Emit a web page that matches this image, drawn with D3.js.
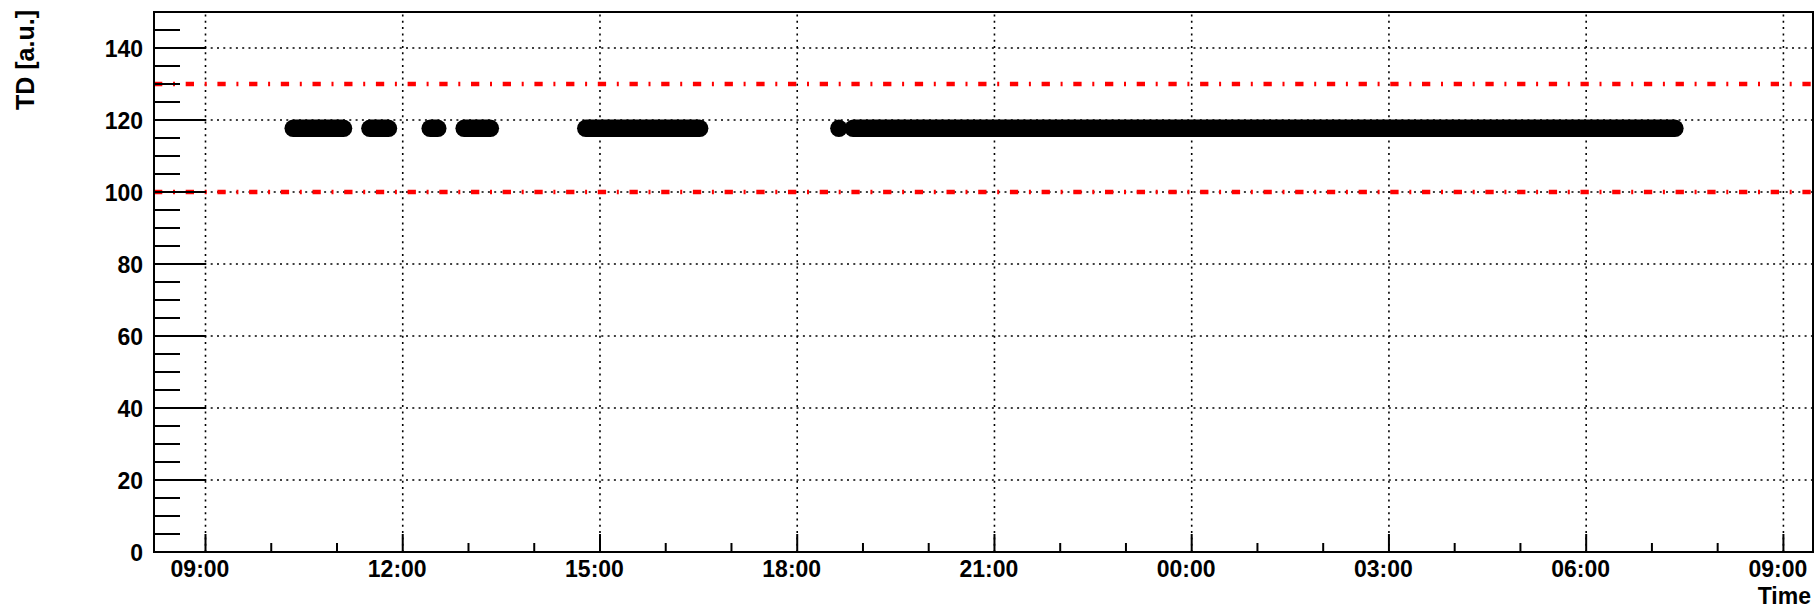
<!DOCTYPE html>
<html>
<head>
<meta charset="utf-8">
<script src="https://cdn.jsdelivr.net/npm/d3@7"></script>
<style>
  body { margin: 0; background: #fff; }
  text { font-family: "Liberation Sans", Arial, Helvetica, sans-serif; font-weight: bold; fill: #000; }
</style>
</head>
<body>
<div id="chart"></div>
<script>
// data: runs of consecutive readings (start, end, value)
const runStart = ["2024-01-01T10:20", "2024-01-01T11:30", "2024-01-01T12:25", "2024-01-01T12:56",
                  "2024-01-01T14:47", "2024-01-01T18:38", "2024-01-01T18:51"];
const runEnd   = ["2024-01-01T11:06", "2024-01-01T11:47", "2024-01-01T12:32", "2024-01-01T13:20",
                  "2024-01-01T16:31", "2024-01-01T18:38", "2024-01-02T07:21"];
const runValue = [117.7, 117.7, 117.7, 117.7, 117.7, 117.7, 117.7];

// limits (red dash-dot lines)
const limitValues = [100, 130];

// axes
const timeStart = "2024-01-01T08:13";
const timeEnd = "2024-01-02T09:27";
const yMin = 0, yMax = 150;
const yTickValues = [0, 20, 40, 60, 80, 100, 120, 140];
const xTitle = "Time";
const yTitle = "TD [a.u.]";

// setup canvas
const canvas_width = 1816;
const canvas_height = 607;
const margin = {top: 12, right: 3, bottom: 55, left: 154};

const svg = d3.select("#chart").append("svg")
  .attr("width", canvas_width)
  .attr("height", canvas_height);

const parseTime = d3.utcParse("%Y-%m-%dT%H:%M");

const x = d3.scaleUtc()
  .domain([parseTime(timeStart), parseTime(timeEnd)])
  .range([margin.left, canvas_width - margin.right]);

const y = d3.scaleLinear()
  .domain([yMin, yMax])
  .range([canvas_height - margin.bottom, margin.top]);

const x0 = margin.left, x1 = canvas_width - margin.right;
const y0 = canvas_height - margin.bottom, y1 = margin.top;

const xMajor = x.ticks(d3.utcHour.every(3));
const xMinor = x.ticks(d3.utcHour.every(1));
const yMinor = y.ticks(30);

// grid (dotted)
const grid = svg.append("g")
  .attr("stroke", "#000")
  .attr("stroke-width", 1.6)
  .attr("stroke-dasharray", "2,4.3");

grid.selectAll(".vgrid")
  .data(xMajor)
  .enter().append("line")
    .attr("x1", d => x(d)).attr("x2", d => x(d))
    .attr("y1", y0).attr("y2", y1);

grid.selectAll(".hgrid")
  .data(yTickValues.filter(d => d > yMin))
  .enter().append("line")
    .attr("x1", x0).attr("x2", x1)
    .attr("y1", d => y(d)).attr("y2", d => y(d));

// limit lines
svg.append("g").selectAll("line")
  .data(limitValues)
  .enter().append("line")
    .attr("x1", x0).attr("x2", x1)
    .attr("y1", d => y(d)).attr("y2", d => y(d))
    .attr("stroke", "#ff0000")
    .attr("stroke-width", 4.5)
    .attr("stroke-dasharray", "8.3,10.7,2,10.7");

// data runs: thick round-capped bars of markers
const runs = runStart.map((s, i) => ({start: parseTime(s), end: parseTime(runEnd[i]), value: runValue[i]}));
const markerR = 8.7;

const marks = svg.append("g");
marks.selectAll("line")
  .data(runs.filter(d => +d.start !== +d.end))
  .enter().append("line")
    .attr("x1", d => x(d.start)).attr("x2", d => x(d.end))
    .attr("y1", d => y(d.value)).attr("y2", d => y(d.value))
    .attr("stroke", "#000")
    .attr("stroke-width", markerR * 2)
    .attr("stroke-linecap", "round");

marks.selectAll("circle")
  .data(runs.filter(d => +d.start === +d.end))
  .enter().append("circle")
    .attr("cx", d => x(d.start))
    .attr("cy", d => y(d.value))
    .attr("r", markerR)
    .attr("fill", "#000");

// ticks (inside the frame)
const ticks = svg.append("g").attr("stroke", "#000").attr("stroke-width", 2);

ticks.selectAll(".xminor")
  .data(xMinor)
  .enter().append("line")
    .attr("x1", d => x(d)).attr("x2", d => x(d))
    .attr("y1", y0).attr("y2", d => y0 - (xMajor.some(m => +m === +d) ? 18 : 9));

ticks.selectAll(".yminor")
  .data(yMinor)
  .enter().append("line")
    .attr("y1", d => y(d)).attr("y2", d => y(d))
    .attr("x1", x0).attr("x2", d => x0 + (yTickValues.includes(d) ? 52 : 26));

// tick labels
const fmt = d3.utcFormat("%H:%M");
svg.append("g").selectAll("text")
  .data(xMajor)
  .enter().append("text")
    .attr("x", d => x(d) - 5.5)
    .attr("y", y0 + 25)
    .attr("text-anchor", "middle")
    .attr("font-size", 23)
    .text(d => fmt(d));

svg.append("g").selectAll("text")
  .data(yTickValues)
  .enter().append("text")
    .attr("x", x0 - 11)
    .attr("y", d => y(d) + 9)
    .attr("text-anchor", "end")
    .attr("font-size", 23)
    .text(d => d);

// axis titles
svg.append("text")
  .attr("x", 1811)
  .attr("y", 604)
  .attr("text-anchor", "end")
  .attr("font-size", 23)
  .text(xTitle);

svg.append("text")
  .attr("transform", "translate(34,10) rotate(-90)")
  .attr("text-anchor", "end")
  .attr("font-size", 25)
  .text(yTitle);

// frame
svg.append("rect")
  .attr("x", x0).attr("y", y1)
  .attr("width", x1 - x0).attr("height", y0 - y1)
  .attr("fill", "none")
  .attr("stroke", "#000")
  .attr("stroke-width", 2);
</script>
</body>
</html>
